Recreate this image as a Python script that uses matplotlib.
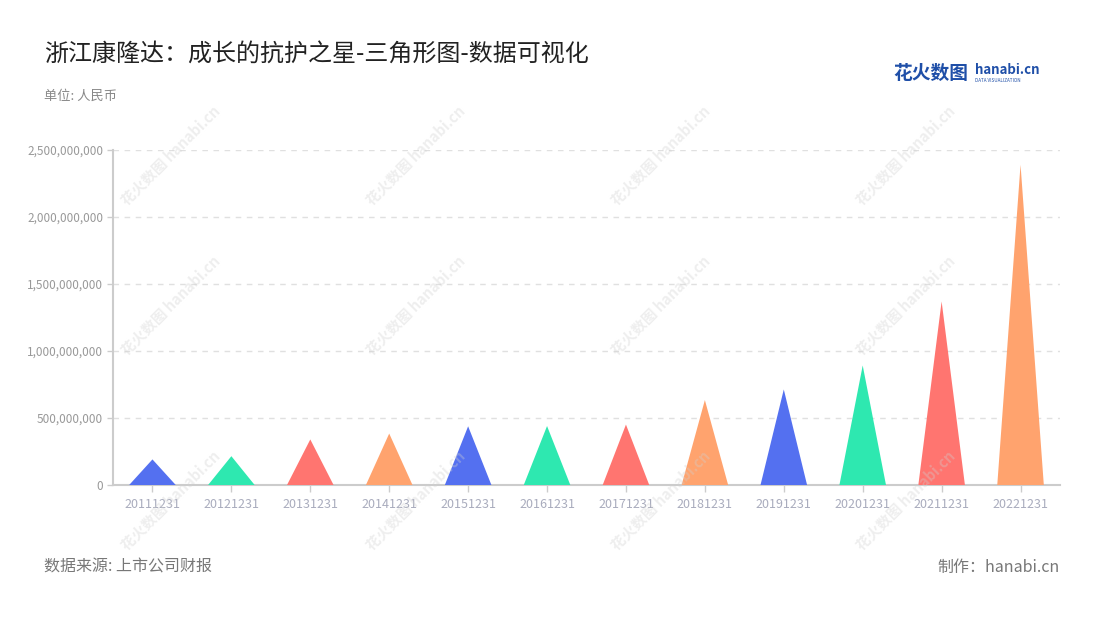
import matplotlib.pyplot as plt
import matplotlib as mpl
from matplotlib.patches import Polygon
from matplotlib.ticker import FuncFormatter

plt.rcParams['font.family'] = ['Noto Sans CJK SC', 'DejaVu Sans']

dates = ['20111231', '20121231', '20131231', '20141231', '20151231', '20161231',
         '20171231', '20181231', '20191231', '20201231', '20211231', '20221231']
values = [191e6, 215e6, 340e6, 384e6, 438e6, 440e6,
          451e6, 634e6, 713e6, 892e6, 1370e6, 2390e6]
palette = ['#5470f0', '#2ee8b0', '#ff7570', '#ffa36e']
yticks = [0, 500e6, 1000e6, 1500e6, 2000e6, 2500e6]

fig = plt.figure(figsize=(11, 6.2), dpi=100)
ax = fig.add_axes([113 / 1100, 1 - 485 / 620, (1060 - 113) / 1100, (485 - 150) / 620])

half = 0.295
for i, v in enumerate(values):
    tri = Polygon([(i - half, 0), (i, v), (i + half, 0)], closed=True,
                  facecolor=palette[i % 4], edgecolor='none', zorder=3)
    ax.add_patch(tri)

ax.set_xlim(-0.5, len(dates) - 0.5)
ax.set_ylim(0, 2.5e9)
ax.set_xticks(range(len(dates)))
ax.set_xticklabels(dates)
ax.set_yticks(yticks)
ax.yaxis.set_major_formatter(FuncFormatter(lambda v, p: '{:,.0f}'.format(v)))
ax.grid(axis='y', color='#e0e0e0', linestyle=(0, (4, 4)), linewidth=1, zorder=0)
for s in ['top', 'right']:
    ax.spines[s].set_visible(False)
for s in ['left', 'bottom']:
    ax.spines[s].set_color('#cccccc')
    ax.spines[s].set_linewidth(1.5)
ax.tick_params(axis='x', colors='#cccccc', length=5, width=1, labelcolor='#a9acbd',
               labelsize=9, pad=4)
ax.tick_params(axis='y', colors='#cccccc', length=4, width=1, labelcolor='#999999',
               labelsize=8.5, pad=3)

# watermarks
for wx in [170, 415, 660, 905]:
    for wy in [155, 305, 500]:
        fig.text(wx / 1100, 1 - wy / 620, '花火数图 hanabi.cn', rotation=45,
                 ha='center', va='center', fontsize=10.5, color='#d0d0d0',
                 alpha=0.35, fontweight='bold', zorder=0)

fig.text(44 / 1100, 1 - 55 / 620, '浙江康隆达：成长的抗护之星-三角形图-数据可视化',
         fontsize=17.3, color='#222222', va='center')
fig.text(44 / 1100, 1 - 96 / 620, '单位: 人民币', fontsize=9.5, color='#888888', va='center')
fig.text(44 / 1100, 1 - 567 / 620, '数据来源: 上市公司财报', fontsize=11.5, color='#777777', va='center')
fig.text(1060 / 1100, 1 - 567 / 620, '制作：hanabi.cn', fontsize=11.5, color='#777777',
         va='center', ha='right')

# logo
fig.text(893 / 1100, 1 - 73 / 620, '花火数图', fontsize=13.5, color='#1f4fa8',
         fontweight='bold', va='center')
fig.text(975 / 1100, 1 - 70 / 620, 'hanabi.cn', fontsize=9.5, color='#1f4fa8',
         fontweight='bold', va='center')
fig.text(975 / 1100, 1 - 80 / 620, 'DATA VISUALIZATION', fontsize=3.3, color='#1f4fa8',
         va='center')

fig.savefig('out.png', dpi=100)
